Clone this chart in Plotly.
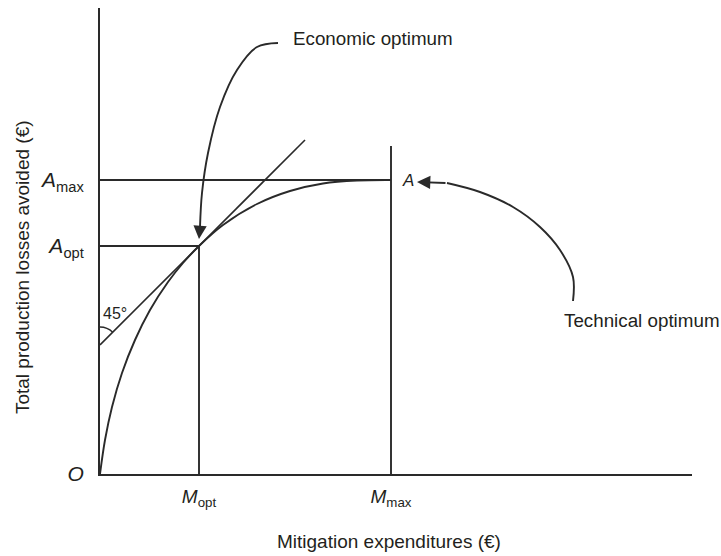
import plotly.graph_objects as go

# ---- data (expenditure units on x, losses-avoided units on y)
curve_x = [0, 0.05, 0.12, 0.22, 0.35, 0.50, 0.68, 0.83, 0.99, 1.23, 1.57, 1.90, 2.23, 2.57, 2.91]
curve_y = [0, 0.34, 0.67, 1.01, 1.34, 1.64, 1.92, 2.11, 2.28, 2.49, 2.70, 2.83, 2.905, 2.935, 2.94]

tangent_x = [0, 2.05]
tangent_y = [1.29, 3.34]

M_opt, M_max = 0.99, 2.91
A_opt, A_max = 2.28, 2.94
M_max_top = 3.28

econ_arrow_x = [1.78, 1.57, 1.37, 1.20, 1.08, 1.02, 1.00, 0.99]
econ_arrow_y = [4.31, 4.27, 4.04, 3.67, 3.21, 2.81, 2.47, 2.35]

tech_arrow_x = [4.73, 4.73, 4.60, 4.40, 4.13, 3.80, 3.47, 3.17]
tech_arrow_y = [1.73, 1.97, 2.24, 2.47, 2.67, 2.82, 2.91, 2.92]

x_tick_vals = [M_opt, M_max]
x_tick_text = ["<i>M</i><sub>opt</sub>", "<i>M</i><sub>max</sub>"]
y_tick_vals = [0, A_opt, A_max]
y_tick_text = ["<i>O</i>", "<i>A</i><sub>opt</sub>", "<i>A</i><sub>max</sub>"]

x_title = "Mitigation expenditures (€)"
y_title = "Total production losses avoided (€)"

LINE = "#2a2a2a"
TEXT = "#231f20"
FONT = "Liberation Sans, Arial, sans-serif"

fig = go.Figure()

def line(x, y, width=1.9, shape="linear"):
    fig.add_trace(go.Scatter(x=x, y=y, mode="lines", line=dict(color=LINE, width=width, shape=shape, smoothing=1.0),
                             hoverinfo="skip", showlegend=False, cliponaxis=False))

# reference lines
line([0, M_max], [A_max, A_max])
line([0, M_opt], [A_opt, A_opt])
line([M_opt, M_opt], [0, A_opt])
line([M_max, M_max], [0, M_max_top])
# tangent (45°)
line(tangent_x, tangent_y, width=1.6)
# production-loss curve
line(curve_x, curve_y, width=1.9, shape="spline")
# annotation arrows (curved body + arrowhead on last segment)
for ax_, ay_ in ((econ_arrow_x, econ_arrow_y), (tech_arrow_x, tech_arrow_y)):
    line(ax_[:-1], ay_[:-1], width=1.9, shape="spline")
    fig.add_annotation(x=ax_[-1], y=ay_[-1], ax=ax_[-2], ay=ay_[-2], xref="x", yref="y", axref="x", ayref="y",
                       text="", showarrow=True, arrowhead=2, arrowsize=1.4, arrowwidth=1.9, arrowcolor=LINE,
                       standoff=0, startstandoff=0)

# 45° angle arc
fig.add_shape(type="path", xref="x", yref="y",
              path=f"M 0,{tangent_y[0] + 0.18} Q 0.074,{tangent_y[0] + 0.18} 0.127,{tangent_y[0] + 0.127}",
              line=dict(color=LINE, width=1.5))

ann_font = dict(family=FONT, size=18.8, color=TEXT)
fig.add_annotation(x=1.905, y=4.36, text="Economic optimum", showarrow=False, xanchor="left", yanchor="middle", font=ann_font)
fig.add_annotation(x=4.62, y=1.54, text="Technical optimum", showarrow=False, xanchor="left", yanchor="middle", font=ann_font)
fig.add_annotation(x=3.08, y=A_max, text="<i>A</i>", showarrow=False, xanchor="center", yanchor="middle",
                   font=dict(family=FONT, size=17, color=TEXT))
fig.add_annotation(x=0.145, y=1.61, text="45°", showarrow=False, xanchor="center", yanchor="middle",
                   font=dict(family=FONT, size=16, color=TEXT))

# axis titles
fig.add_annotation(xref="paper", yref="paper", x=0.488, y=-0.1438, text=x_title, showarrow=False,
                   xanchor="center", yanchor="middle", font=dict(family=FONT, size=19, color=TEXT))
fig.add_annotation(xref="paper", yref="paper", x=-0.1318, y=0.444, text=y_title, showarrow=False, textangle=-90,
                   xanchor="center", yanchor="middle", font=dict(family=FONT, size=19, color=TEXT))

fig.update_layout(
    width=721, height=556,
    margin=dict(l=100, r=29, t=8, b=82, autoexpand=False),
    paper_bgcolor="white", plot_bgcolor="white",
    showlegend=False,
    xaxis=dict(range=[0, 5.92], showgrid=False, zeroline=False, showline=True, linecolor=LINE, linewidth=2,
               tickvals=x_tick_vals, ticktext=x_tick_text, ticks="", ticklabelstandoff=4, automargin=False,
               tickfont=dict(family=FONT, size=19, color=TEXT), fixedrange=True),
    yaxis=dict(range=[0, 4.66], showgrid=False, zeroline=False, showline=True, linecolor=LINE, linewidth=2,
               tickvals=y_tick_vals, ticktext=y_tick_text, ticks="", ticklabelstandoff=10, automargin=False,
               tickfont=dict(family=FONT, size=21, color=TEXT), fixedrange=True),
)

fig.write_html("out.html", config={"displayModeBar": False},
               post_script="document.body.style.margin='0';document.body.style.padding='0';"
                           "document.documentElement.style.overflow='hidden';")
